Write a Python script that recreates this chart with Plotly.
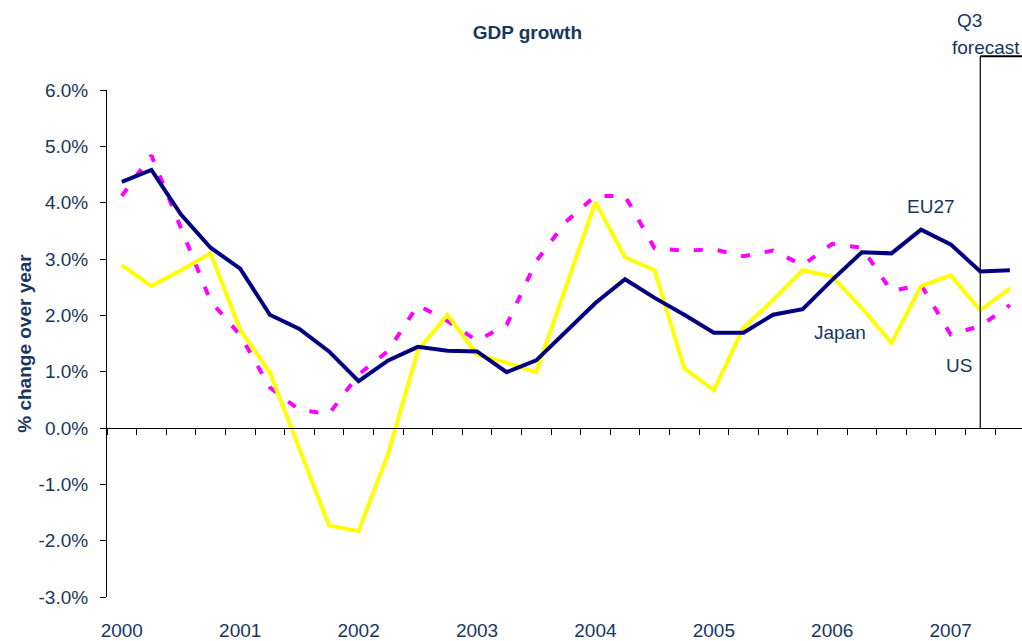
import plotly.graph_objects as go

years = ["2000", "2001", "2002", "2003", "2004", "2005", "2006", "2007"]
quarters = [f"{y}Q{q}" for y in years for q in range(1, 5)][:31]

eu27 = [4.37, 4.58, 3.79, 3.20, 2.83, 2.01, 1.76, 1.36, 0.83, 1.20, 1.44, 1.37, 1.36, 0.99, 1.20, 1.72,
        2.22, 2.64, 2.31, 2.01, 1.69, 1.69, 2.01, 2.11, 2.63, 3.12, 3.10, 3.52, 3.26, 2.78, 2.80]
japan = [2.89, 2.52, 2.80, 3.10, 1.74, 0.99, -0.37, -1.73, -1.83, -0.45, 1.37, 2.01, 1.30, 1.16, 0.99, 2.48,
         4.01, 3.03, 2.80, 1.06, 0.67, 1.78, 2.27, 2.80, 2.69, 2.13, 1.51, 2.52, 2.71, 2.09, 2.48]
us = [4.12, 4.84, 3.55, 2.25, 1.65, 0.72, 0.32, 0.25, 0.95, 1.37, 2.18, 1.90, 1.55, 1.83, 2.96, 3.66,
      4.12, 4.12, 3.19, 3.15, 3.17, 3.05, 3.15, 2.89, 3.27, 3.20, 2.43, 2.54, 1.66, 1.81, 2.18]

y_tickvals = [-3, -2, -1, 0, 1, 2, 3, 4, 5, 6]
y_ticktext = ["-3.0%", "-2.0%", "-1.0%", "0.0%", "1.0%", "2.0%", "3.0%", "4.0%", "5.0%", "6.0%"]

forecast_quarter = "2007Q2"

x = list(range(len(quarters)))
forecast_x = quarters.index(forecast_quarter)
x_end = 30.41

TXT = "#17375E"
FONT = "Liberation Sans, Arial, sans-serif"

fig = go.Figure()
fig.add_trace(go.Scatter(x=x, y=us, name="US", mode="lines",
                         line=dict(color="#FF00FF", width=4, dash="9px,15px"),
                         customdata=quarters, hovertemplate="%{customdata}: %{y:.1f}%<extra>US</extra>"))
fig.add_trace(go.Scatter(x=x, y=japan, name="Japan", mode="lines",
                         line=dict(color="#FFFF00", width=4),
                         customdata=quarters, hovertemplate="%{customdata}: %{y:.1f}%<extra>Japan</extra>"))
fig.add_trace(go.Scatter(x=x, y=eu27, name="EU27", mode="lines",
                         line=dict(color="#000080", width=4),
                         customdata=quarters, hovertemplate="%{customdata}: %{y:.1f}%<extra>EU27</extra>"))
# invisible trace carrying the year-label axis
fig.add_trace(go.Scatter(x=[x[0], x[-1]], y=[None, None], xaxis="x2", showlegend=False,
                         hoverinfo="skip", mode="lines"))

fig.update_layout(
    width=1022, height=641,
    margin=dict(l=107, r=0, t=90, b=40),
    paper_bgcolor="white", plot_bgcolor="white",
    showlegend=False,
    font=dict(family=FONT, size=19, color=TXT),
    title=dict(text="<b>GDP growth</b>", x=0.516, xanchor="center", y=0.95, yanchor="middle",
               font=dict(family=FONT, size=19, color=TXT)),
    xaxis=dict(range=[-0.5, x_end], anchor="free", position=1/3,
               tickvals=[i - 0.5 for i in range(len(quarters) + 1)],
               showticklabels=False, ticks="outside", ticklen=6, tickcolor="#000", tickwidth=1,
               showline=True, linecolor="#000", linewidth=1.3, showgrid=False, zeroline=False),
    xaxis2=dict(range=[-0.5, x_end], overlaying="x", anchor="y", side="bottom",
                tickvals=[quarters.index(f"{y}Q1") for y in years], ticktext=years,
                ticks="", showline=False, showgrid=False, zeroline=False,
                ticklabelstandoff=20, tickfont=dict(family=FONT, size=19, color=TXT)),
    yaxis=dict(range=[-3, 6], tickvals=y_tickvals, ticktext=y_ticktext,
               ticks="outside", ticklen=6, tickcolor="#000", showline=True, linecolor="#000",
               linewidth=1, showgrid=False, zeroline=False, ticklabelstandoff=8,
               tickfont=dict(family=FONT, size=19, color=TXT),
               title=dict(text="<b>% change over year</b>", standoff=1,
                          font=dict(family=FONT, size=19, color=TXT))),
)

# forecast marker
fig.add_shape(type="line", xref="x", yref="paper", x0=forecast_x, x1=forecast_x, y0=1/3, y1=1.0665,
              line=dict(color="#000", width=1.2))
fig.add_shape(type="line", xref="x", yref="paper", x0=forecast_x, x1=x_end, y0=1.0665, y1=1.0665,
              line=dict(color="#000", width=2))

annots = [
    dict(text="EU27", x=27.33, y=3.93, xref="x", yref="y"),
    dict(text="Japan", x=24.26, y=1.69, xref="x", yref="y"),
    dict(text="US", x=28.28, y=1.11, xref="x", yref="y"),
    dict(text="Q3", x=0.943, y=1.137, xref="paper", yref="paper"),
    dict(text="forecast", x=0.961, y=1.084, xref="paper", yref="paper"),
]
for a in annots:
    fig.add_annotation(**a, showarrow=False, xanchor="center", yanchor="middle",
                       font=dict(family=FONT, size=19, color=TXT))

fig.write_html("out.html", config={"displayModeBar": False},
               post_script="document.body.style.margin='0';document.body.style.overflow='hidden';")
